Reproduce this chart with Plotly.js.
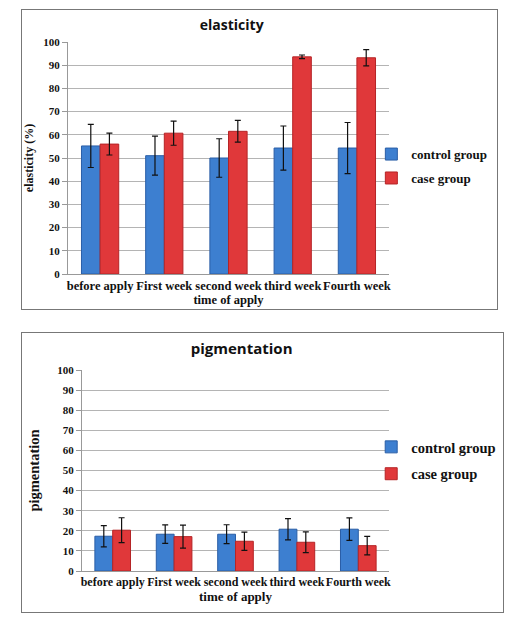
<!DOCTYPE html>
<html>
<head>
<meta charset="utf-8">
<script src="https://cdn.plot.ly/plotly-3.0.1.min.js"></script>
<style>
  html, body { margin: 0; padding: 0; background: #fff; }
  .box { position: absolute; border: 1px solid #777; box-sizing: border-box; background: #fff; }
</style>
</head>
<body>
<div id="c1" class="box" style="left:21px; top:9px; width:477px; height:301px;"></div>
<div id="c2" class="box" style="left:21px; top:332px; width:483px; height:281px;"></div>
<script>
const categories = ["before apply", "First week", "second week", "third week", "Fourth week"];
const seriesNames = ["control group", "case group"];

const elasticityControl = [55.2, 51.0, 50.0, 54.3, 54.3];
const elasticityControlErr = [9.3, 8.4, 8.3, 9.5, 11.0];
const elasticityCase = [56.0, 60.7, 61.5, 93.6, 93.2];
const elasticityCaseErr = [4.7, 5.2, 4.7, 0.8, 3.5];

const pigmentControl = [17.3, 18.3, 18.3, 20.8, 20.8];
const pigmentControlErr = [5.3, 4.6, 4.7, 5.3, 5.6];
const pigmentCase = [20.3, 17.1, 14.8, 14.3, 12.6];
const pigmentCaseErr = [6.2, 5.7, 4.5, 5.2, 4.6];

const yTicks = [0, 10, 20, 30, 40, 50, 60, 70, 80, 90, 100];

const BLUE = "#3d7fd0", BLUE_EDGE = "#2a5ea6";
const RED = "#e0383a", RED_EDGE = "#b52426";
const SERIF = "Liberation Serif, Times New Roman, serif";

function barTrace(name, group, y, err, fill, edge) {
  return {
    type: "bar", name: name, legendgroup: group, x: categories, y: y,
    marker: { color: fill, line: { color: edge, width: 1 } },
    error_y: { type: "data", array: err, visible: true, color: "#111", thickness: 1.2, width: 3 }
  };
}

function makeChart(id, o) {
  const traces = [
    barTrace(seriesNames[0], "g1", o.control, o.controlErr, BLUE, BLUE_EDGE),
    barTrace(seriesNames[1], "g2", o.cas, o.caseErr, RED, RED_EDGE)
  ];
  const layout = {
    width: o.w, height: o.h,
    margin: Object.assign({ autoexpand: false }, o.margin),
    paper_bgcolor: "#fff", plot_bgcolor: "#fff",
    barmode: "group", bargap: 0.42, bargroupgap: 0,
    showlegend: true,
    title: { text: o.title, x: o.titleX, xref: "paper", xanchor: "center", y: o.titleY, yref: "container", yanchor: "middle",
             font: { family: "Open Sans, sans-serif", size: o.titleSize, color: "#111", weight: "bold" } },
    font: { family: SERIF, color: "#111" },
    xaxis: {
      type: "category", tickangle: 0,
      tickfont: { family: SERIF, size: o.xTickSize, color: "#111", weight: "bold" },
      showline: true, linecolor: "#999", linewidth: 1,
      ticks: "", showgrid: false,
      title: { text: "time of apply", standoff: 0, font: { family: SERIF, size: o.xTitleSize, color: "#111", weight: "bold" } }
    },
    yaxis: {
      range: [0, 100], tickvals: yTicks, ticktext: yTicks.map(String),
      tickfont: { family: SERIF, size: 11, color: "#111", weight: "bold" },
      showline: true, linecolor: "#999", linewidth: 1,
      ticks: "outside", ticklen: 5, tickcolor: "#999",
      showgrid: true, gridcolor: "#b4b4b4", gridwidth: 1,
      zeroline: false,
      title: { text: o.yTitle, standoff: o.yStandoff, font: { family: SERIF, size: o.yTitleSize, color: "#111", weight: "bold" } }
    },
    legend: {
      x: o.legX, xanchor: "left", xref: "paper",
      y: o.legY, yanchor: "middle", yref: "paper",
      font: { family: SERIF, size: o.legSize, color: "#111", weight: "bold" },
      itemwidth: 30, tracegroupgap: o.legGap, bgcolor: "rgba(0,0,0,0)",
      traceorder: "grouped"
    }
  };
  Plotly.newPlot(id, traces, layout, { staticPlot: true, displayModeBar: false });
}

makeChart("c1", {
  w: 475, h: 299,
  margin: { l: 46, r: 108, t: 32, b: 35, pad: 0 },
  title: "elasticity", titleX: 0.51, titleY: 1 - 15 / 299, titleSize: 14,
  xTickSize: 12.5, xTitleSize: 12.5,
  yTitle: "elasticity (%)", yTitleSize: 12, yStandoff: 8,
  legX: 0.945, legY: 0.465, legSize: 13, legGap: 4,
  control: elasticityControl, controlErr: elasticityControlErr,
  cas: elasticityCase, caseErr: elasticityCaseErr
});

makeChart("c2", {
  w: 481, h: 279,
  margin: { l: 60, r: 114, t: 37, b: 41, pad: 0 },
  title: "pigmentation", titleX: 0.52, titleY: 1 - 16 / 279, titleSize: 15,
  xTickSize: 12, xTitleSize: 13,
  yTitle: "pigmentation", yTitleSize: 14.5, yStandoff: 14,
  legX: 0.942, legY: 0.55, legSize: 14.5, legGap: 5,
  control: pigmentControl, controlErr: pigmentControlErr,
  cas: pigmentCase, caseErr: pigmentCaseErr
});
</script>
</body>
</html>
